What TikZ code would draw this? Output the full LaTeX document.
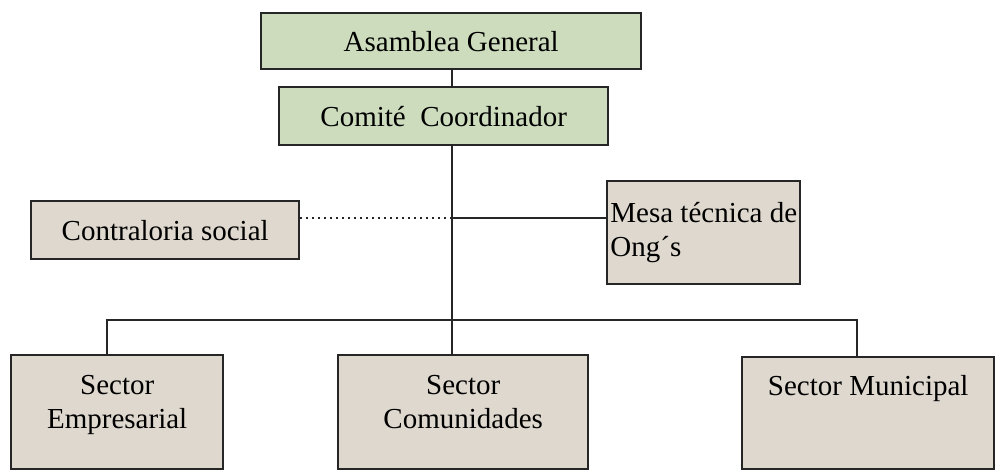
\documentclass[tikz,border=0pt]{standalone}
\usepackage{fontspec}
\setmainfont{Liberation Serif}
\definecolor{verde}{RGB}{204,220,188}
\definecolor{beige}{RGB}{222,216,206}
\tikzset{
  caja/.style={draw=black!85, line width=1.2pt, rectangle, inner sep=0pt, anchor=north west},
  texto/.style={font=\fontsize{14.5}{17}\selectfont, inner sep=0pt, align=center},
  linea/.style={draw=black!85, line width=1pt}
}
\begin{document}
\begin{tikzpicture}[x=0.5pt, y=-0.5pt]
        \useasboundingbox (0,0) rectangle (1000,471);
        \clip (0,0) rectangle (1000,471);

        % cajas
        \begin{scope}
          \node[caja, fill=verde, minimum width=190, minimum height=28] (asamblea) at (260,12) {};
          \node[caja, fill=verde, minimum width=164.5, minimum height=29] (comite) at (278,86) {};
          \node[caja, fill=beige, minimum width=134, minimum height=29] (contra) at (30,200) {};
          \node[caja, fill=beige, minimum width=96.5, minimum height=51.5] (mesa) at (606,180) {};
          \node[caja, fill=beige, minimum width=106, minimum height=57] (empre) at (10,354) {};
          \node[caja, fill=beige, minimum width=125, minimum height=57] (comun) at (337,354) {};
          \node[caja, fill=beige, minimum width=126, minimum height=56] (muni) at (741,356) {};
        \end{scope}

        % textos
        \begin{scope}[every node/.style={texto}]
          \node (tasamblea) at (asamblea.center) {Asamblea General};
          \node (tcomite) at (comite.center) {Comité\ \ Coordinador};
          \node (tcontra) at (contra.center) {Contraloria social};
          \node[anchor=north west, align=left] (tmesa) at ([xshift=2, yshift=-11]mesa.north west) {Mesa técnica de\\Ong´s};
          \node[anchor=north] (tempre) at ([yshift=-10.5]empre.north) {Sector\\Empresarial};
          \node[anchor=north] (tcomun) at ([yshift=-10.5]comun.north) {Sector\\Comunidades};
          \node[anchor=north] (tmuni) at ([yshift=-9.5]muni.north) {Sector Municipal};
        \end{scope}

        % conectores
        \coordinate (cruce) at (452,218);
        \coordinate (rama) at (452,320);
        \path[linea] (asamblea.south -| rama) -- (comite.north -| rama);
        \path[linea] (comite.south -| rama) -- (rama);
        \path[linea, dotted] (contra.east |- cruce) -- (cruce);
        \path[linea] (cruce) -- (cruce -| mesa.west);
        \path[linea] (empre.north -| 107,0) |- (rama) -| (muni.north -| 857,0);
        \path[linea] (rama) -- (comun.north -| rama);

\end{tikzpicture}
\end{document}
